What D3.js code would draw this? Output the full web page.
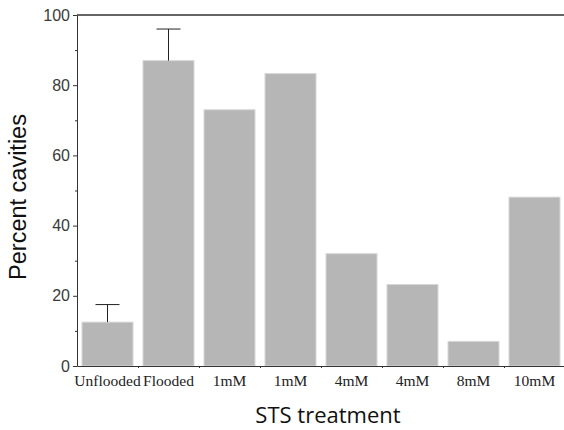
<!DOCTYPE html>
<html>
<head>
<meta charset="utf-8">
<script src="https://cdn.jsdelivr.net/npm/d3@7"></script>
<style>
  body { margin: 0; background: #fff; }
  svg { display: block; }
</style>
</head>
<body>
<div id="chart"></div>
<script>
const categories = ["Unflooded", "Flooded", "1mM", "1mM", "4mM", "4mM", "8mM", "10mM"];
const values = [12.5, 87, 73, 83.3, 32, 23.2, 7, 48.1];
// error bars only on the first two bars (upper whisker value)
const errorTops = [17.5, 96, null, null, null, null, null, null];
const yMajor = [0, 20, 40, 60, 80, 100];
const yMinor = [10, 30, 50, 70, 90];

const width = 564;
const height = 430;
const plotLeft = 77, plotRight = 565, plotTop = 15, plotBottom = 366;

const svg = d3.select("#chart")
    .append("svg")
    .attr("width", width)
    .attr("height", height);

const x = d3.scaleBand()
    .domain(d3.range(categories.length))
    .range([plotLeft, plotRight])
    .paddingInner(0.148)
    .paddingOuter(0.074);

const xb = d3.scaleLinear()
    .domain([0, categories.length])
    .range([plotLeft, plotRight]);

const y = d3.scaleLinear()
    .domain([0, 100])
    .range([plotBottom, plotTop]);

// bars
svg.append("g")
    .selectAll("rect")
    .data(values)
    .join("rect")
    .attr("x", (d, i) => x(i) + 0.5)
    .attr("y", d => y(d))
    .attr("width", x.bandwidth() - 1)
    .attr("height", d => y(0) - y(d))
    .attr("fill", "#b6b6b6")
    .attr("stroke", "#d6d6d6")
    .attr("stroke-width", 1);

// error bars
const err = svg.append("g")
    .selectAll("g")
    .data(errorTops.map((e, i) => ({ e: e, v: values[i], i: i })).filter(d => d.e !== null))
    .join("g")
    .attr("stroke", "#222")
    .attr("stroke-width", 1);
err.append("line")
    .attr("x1", d => x(d.i) + x.bandwidth() / 2)
    .attr("x2", d => x(d.i) + x.bandwidth() / 2)
    .attr("y1", d => y(d.v))
    .attr("y2", d => y(d.e));
err.append("line")
    .attr("x1", d => x(d.i) + x.bandwidth() / 2 - 12)
    .attr("x2", d => x(d.i) + x.bandwidth() / 2 + 12)
    .attr("y1", d => y(d.e))
    .attr("y2", d => y(d.e));

// top frame line
svg.append("line")
    .attr("x1", plotLeft)
    .attr("x2", width)
    .attr("y1", plotTop)
    .attr("y2", plotTop)
    .attr("stroke", "#333")
    .attr("stroke-width", 1.5);

// y axis
const yAxis = svg.append("g")
    .attr("transform", `translate(${plotLeft},0)`)
    .call(d3.axisLeft(y).tickValues(yMajor).tickSize(4).tickSizeOuter(0).tickPadding(3));
yAxis.select(".domain").attr("stroke", "#333");
yAxis.selectAll(".tick line").attr("stroke", "#333");
yAxis.selectAll("text")
    .attr("font-family", "'Liberation Sans', Arial, sans-serif")
    .attr("font-size", 16)
    .attr("fill", "#3a3a3a");

svg.append("g")
    .attr("transform", `translate(${plotLeft},0)`)
    .call(d3.axisLeft(y).tickValues(yMinor).tickSize(2).tickFormat(""))
    .call(g => g.select(".domain").remove())
    .selectAll(".tick line").attr("stroke", "#333");

// x axis
const xAxis = svg.append("g")
    .attr("transform", `translate(0,${plotBottom})`)
    .call(d3.axisBottom(xb).tickValues(d3.range(1, categories.length)).tickSize(2).tickSizeOuter(0).tickFormat(""));
xAxis.select(".domain").attr("stroke", "#333");
xAxis.selectAll(".tick line").attr("stroke", "#333");

svg.append("g")
    .selectAll("text")
    .data(categories)
    .join("text")
    .attr("x", (d, i) => x(i) + x.bandwidth() / 2)
    .attr("y", plotBottom + 20)
    .attr("text-anchor", "middle")
    .attr("font-family", "'Liberation Serif', 'Times New Roman', serif")
    .attr("font-size", 15.5)
    .attr("fill", "#222")
    .text(d => d);

// axis titles
svg.append("text")
    .attr("transform", `translate(26,197) rotate(-90)`)
    .attr("text-anchor", "middle")
    .attr("font-family", "'Liberation Sans', Arial, sans-serif")
    .attr("font-size", 23.5)
    .attr("fill", "#111")
    .text("Percent cavities");

svg.append("text")
    .attr("x", 328)
    .attr("y", 423)
    .attr("text-anchor", "middle")
    .attr("font-family", "'Open Sans', sans-serif")
    .attr("font-size", 22)
    .attr("fill", "#111")
    .text("STS treatment");
</script>
</body>
</html>
